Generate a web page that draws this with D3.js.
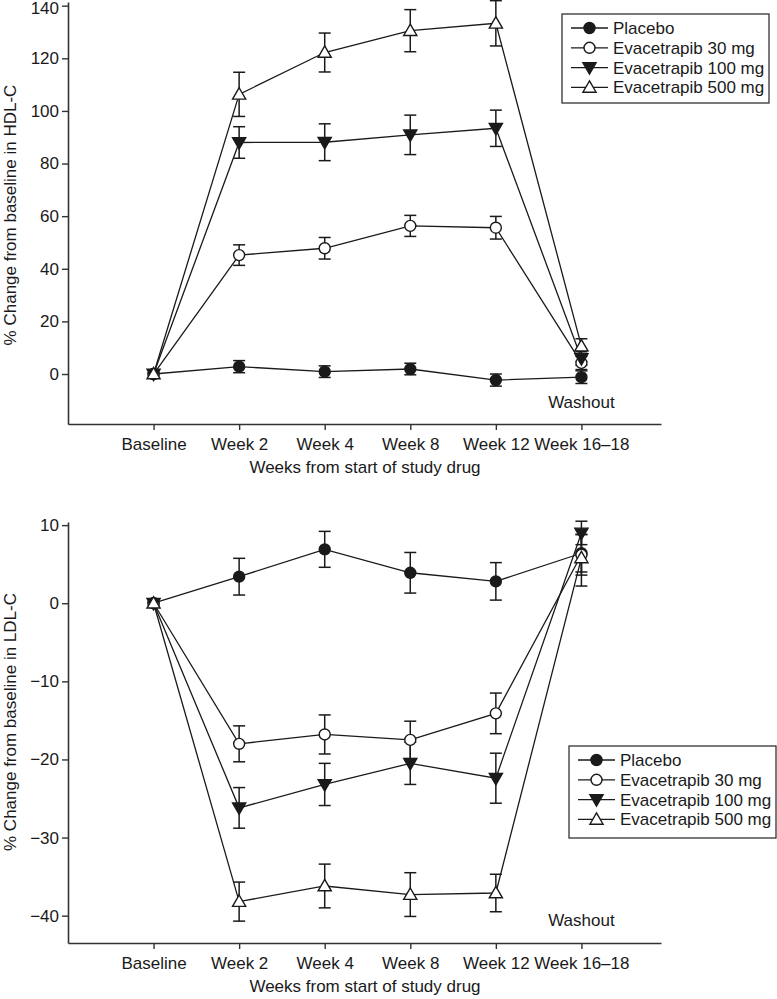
<!DOCTYPE html>
<html>
<head>
<meta charset="utf-8">
<script src="https://cdn.jsdelivr.net/npm/d3@7"></script>
<style>
  html, body { margin: 0; padding: 0; background: #fff; }
  svg { display: block; }
  text { font-family: "Liberation Sans", Arial, sans-serif; fill: #1a1a1a; }
</style>
</head>
<body>
<svg id="chart" width="777" height="999"></svg>
<script>
// ---- data ----
const categories = ["Baseline", "Week 2", "Week 4", "Week 8", "Week 12", "Week 16\u201318"];
const seriesNames = ["Placebo", "Evacetrapib 30 mg", "Evacetrapib 100 mg", "Evacetrapib 500 mg"];
const seriesSymbols = ["circleFilled", "circleOpen", "triDownFilled", "triUpOpen"];

// HDL-C % change
const hdlPlacebo = [0, 2.8, 0.9, 1.9, -2.3, -1.2];
const hdlPlaceboErr = [0, 2.3, 2.2, 2.2, 2.3, 2.4];
const hdl30 = [0, 45.2, 47.8, 56.3, 55.6, 4.2];
const hdl30Err = [0, 3.9, 4.1, 4.0, 4.3, 2.5];
const hdl100 = [0, 88.0, 88.1, 90.9, 93.4, 5.9];
const hdl100Err = [0, 6.0, 7.0, 7.5, 6.9, 2.6];
const hdl500 = [0, 106.3, 122.2, 130.5, 133.3, 10.6];
const hdl500Err = [0, 8.4, 7.4, 8.0, 8.6, 2.8];
const hdlTicks = [0, 20, 40, 60, 80, 100, 120, 140];

// LDL-C % change
const ldlPlacebo = [0, 3.4, 6.9, 3.9, 2.8, 6.4];
const ldlPlaceboErr = [0, 2.35, 2.3, 2.6, 2.4, 2.4];
const ldl30 = [0, -18.0, -16.8, -17.5, -14.1, 6.2];
const ldl30Err = [0, 2.3, 2.5, 2.4, 2.6, 2.6];
const ldl100 = [0, -26.2, -23.2, -20.5, -22.4, 9.0];
const ldl100Err = [0, 2.6, 2.7, 2.7, 3.2, 1.5];
const ldl500 = [0, -38.2, -36.2, -37.3, -37.1, 5.8];
const ldl500Err = [0, 2.5, 2.8, 2.8, 2.4, 3.6];
const ldlTicks = [-40, -30, -20, -10, 0, 10];

const xLabel = "Weeks from start of study drug";
const washoutLabel = "Washout";

// ---- drawing ----
const svg = d3.select("#chart");
const ink = "#1a1a1a";
const FS = 17;

function symbolPath(kind) {
  if (kind.startsWith("circle")) return d3.symbol(d3.symbolCircle, 95)();
  return d3.symbol(d3.symbolTriangle, 75)();
}

function drawMarker(g, kind, x, y) {
  const p = g.append("path")
    .attr("d", symbolPath(kind))
    .attr("stroke", ink)
    .attr("stroke-width", 1.4)
    .attr("fill", kind.includes("Filled") ? ink : "#fff");
  let tr = `translate(${x},${y})`;
  if (kind === "triDownFilled") tr += " rotate(180)";
  if (kind.startsWith("tri")) tr += " translate(0,1)";
  p.attr("transform", tr);
}

function panel(opts) {
  const g = svg.append("g");
  const x = d3.scaleLinear().domain([-1, 5.93]).range([68, 661]);
  const y = d3.scaleLinear().domain(opts.yDomain).range(opts.yRange);

  // axes
  const yAxis = d3.axisLeft(y).tickValues(opts.ticks).tickSize(6).tickSizeOuter(0)
    .tickFormat(d => d < 0 ? "\u2212" + Math.abs(d) : d);
  const ya = g.append("g").attr("transform", `translate(68,0)`).call(yAxis);
  const xAxis = d3.axisBottom(x).tickValues(d3.range(categories.length)).tickSize(6).tickSizeOuter(0)
    .tickFormat(i => categories[i]);
  const xa = g.append("g").attr("transform", `translate(0,${opts.yRange[0]})`).call(xAxis);
  [ya, xa].forEach(a => {
    a.select(".domain").attr("stroke", "#333").attr("stroke-width", 1.6);
    a.selectAll(".tick line").attr("stroke", "#333").attr("stroke-width", 1.4);
    a.selectAll(".tick text").attr("font-size", FS).attr("fill", ink)
      .style("font-family", "'Liberation Sans', Arial, sans-serif");
  });
  ya.selectAll(".tick text").attr("x", -9)
    .attr("y", d => Math.max(0, 8 - y(d)));  // keep the topmost label inside the page
  xa.selectAll(".tick text").attr("y", 14);

  // axis labels
  g.append("text").attr("x", 365).attr("y", opts.yRange[0] + 49)
    .attr("text-anchor", "middle").attr("font-size", FS).text(xLabel);
  g.append("text")
    .attr("transform", `translate(16,${opts.ylabY}) rotate(-90)`)
    .attr("text-anchor", "middle").attr("font-size", FS).text(opts.ylabel);
  g.append("text").attr("x", x(5)).attr("y", opts.washY)
    .attr("text-anchor", "middle").attr("font-size", FS).text(washoutLabel);

  const line = d3.line().x((d, i) => x(i)).y(d => y(d));

  // lines
  opts.series.forEach(s => {
    g.append("path").datum(s.v).attr("d", line)
      .attr("fill", "none").attr("stroke", ink).attr("stroke-width", 1.3);
  });
  // error bars
  opts.series.forEach(s => {
    s.v.forEach((v, i) => {
      const e = s.e[i];
      if (!e) return;
      const cx = x(i);
      const eg = g.append("g").attr("stroke", ink).attr("stroke-width", 1.5);
      eg.append("line").attr("x1", cx).attr("x2", cx).attr("y1", y(v - e)).attr("y2", y(v + e));
      eg.append("line").attr("x1", cx - 6).attr("x2", cx + 6).attr("y1", y(v - e)).attr("y2", y(v - e));
      eg.append("line").attr("x1", cx - 6).attr("x2", cx + 6).attr("y1", y(v + e)).attr("y2", y(v + e));
    });
  });
  // markers (placebo first, 500 last)
  opts.series.forEach((s, si) => {
    s.v.forEach((v, i) => drawMarker(g, seriesSymbols[si], x(i), y(v)));
  });

  // legend
  const L = opts.legend;
  g.append("rect").attr("x", L.x).attr("y", L.y).attr("width", L.w).attr("height", L.h)
    .attr("fill", "#fff").attr("stroke", "#333").attr("stroke-width", 1.3);
  seriesNames.forEach((name, i) => {
    const ly = L.y + 14 + i * 19.8;
    g.append("line").attr("x1", L.x + 9).attr("x2", L.x + 46).attr("y1", ly).attr("y2", ly)
      .attr("stroke", ink).attr("stroke-width", 1.3);
    drawMarker(g, seriesSymbols[i], L.x + 27.5, ly);
    g.append("text").attr("x", L.x + 51).attr("y", ly).attr("dy", "0.35em")
      .attr("font-size", FS).text(name);
  });
}

panel({
  yDomain: [-19, 141.4], yRange: [424, 2], ticks: hdlTicks,
  ylabel: "% Change from baseline in HDL-C", ylabY: 215, washY: 408,
  series: [
    { v: hdlPlacebo, e: hdlPlaceboErr },
    { v: hdl30, e: hdl30Err },
    { v: hdl100, e: hdl100Err },
    { v: hdl500, e: hdl500Err }
  ],
  legend: { x: 562, y: 14, w: 207, h: 89 }
});

panel({
  yDomain: [-43.5, 10.4], yRange: [943, 522], ticks: ldlTicks,
  ylabel: "% Change from baseline in LDL-C", ylabY: 722, washY: 926,
  series: [
    { v: ldlPlacebo, e: ldlPlaceboErr },
    { v: ldl30, e: ldl30Err },
    { v: ldl100, e: ldl100Err },
    { v: ldl500, e: ldl500Err }
  ],
  legend: { x: 569, y: 746, w: 207, h: 92 }
});
</script>
</body>
</html>
